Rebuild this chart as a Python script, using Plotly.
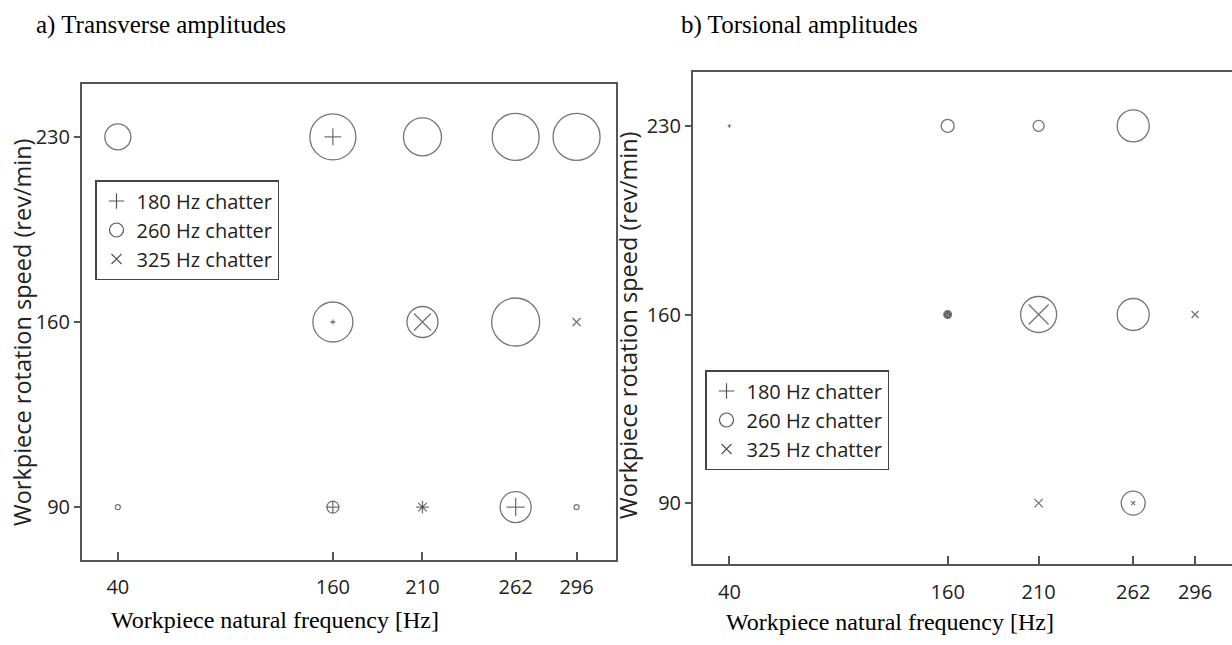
import plotly.graph_objects as go

# ---------------- data ----------------
speeds = [90, 160, 230]
freqs = [40, 160, 210, 262, 296]
freq_labels = ["40", "160", "210", "262", "296"]
series_names = ["180 Hz chatter", "260 Hz chatter", "325 Hz chatter"]

# a) Transverse amplitudes  (amp = marker diameter read off the picture)
a180_x = [160, 160, 160, 210, 262]
a180_y = [230, 160, 90, 90, 90]
a180_amp = [12, 3.5, 8.5, 9, 13]
a260_x = [40, 160, 210, 262, 296, 160, 210, 262, 40, 160, 262, 296]
a260_y = [230, 230, 230, 230, 230, 160, 160, 160, 90, 90, 90, 90]
a260_amp = [26, 46, 38, 47, 47, 40, 31, 48, 5, 12, 31, 5]
a325_x = [210, 296, 210]
a325_y = [160, 160, 90]
a325_amp = [17, 8, 8.5]

# b) Torsional amplitudes
b180_x = [40, 160]
b180_y = [230, 160]
b180_amp = [2.5, 4.5]
b260_x = [160, 210, 262, 160, 210, 262, 262]
b260_y = [230, 230, 230, 160, 160, 160, 90]
b260_amp = [13, 11, 32, 6, 36, 32, 24]
b325_x = [210, 296, 210, 262]
b325_y = [160, 160, 90, 90]
b325_amp = [20, 7, 8.5, 4]

# ---------------- style ----------------
MCOL = "#3a3a3a"
SANS = "Open Sans, Noto Sans, DejaVu Sans, sans-serif"
SERIF = "Liberation Serif, Times New Roman, serif"
symbols = ["cross-thin", "circle-open", "x-thin"]

fig = go.Figure()


def add_panel(xa, ya, data, legend_name):
    for (xs, ys, amp), sym in zip(data, symbols):
        # very small circles drawn with a thicker outline so they read as dots
        lw = [3 if (sym == "circle-open" and a <= 6 and xa == "x2") else 1.3
              for a in amp]
        fig.add_trace(go.Scatter(
            x=xs, y=ys, mode="markers", xaxis=xa, yaxis=ya,
            showlegend=False, hoverinfo="skip",
            marker=dict(symbol=sym, size=amp, color=MCOL,
                        line=dict(color=MCOL, width=lw)),
        ))
    legend_sizes = [11, 14, 10]
    for name, sym, s in zip(series_names, symbols, legend_sizes):
        fig.add_trace(go.Scatter(
            x=[None], y=[None], mode="markers", xaxis=xa, yaxis=ya,
            name=name, legend=legend_name, showlegend=True,
            marker=dict(symbol=sym, size=s, color="#555",
                        line=dict(color="#555", width=1.2)),
        ))


add_panel("x", "y", [(a180_x, a180_y, a180_amp), (a260_x, a260_y, a260_amp),
                     (a325_x, a325_y, a325_amp)], "legend")
add_panel("x2", "y2", [(b180_x, b180_y, b180_amp), (b260_x, b260_y, b260_amp),
                       (b325_x, b325_y, b325_amp)], "legend2")

tickfont = dict(family=SANS, size=20, color="#222")
axis_common = dict(showgrid=False, zeroline=False, showline=True,
                   linecolor="#555", linewidth=2, tickfont=tickfont,
                   tickcolor="#555", tickwidth=1.5)

legend_common = dict(bgcolor="white", bordercolor="#444", borderwidth=1.5,
                     font=dict(family=SANS, size=20, color="#222"),
                     xanchor="left", yanchor="top", tracegroupgap=0,
                     itemsizing="trace")

fig.update_layout(
    width=1232, height=645,
    margin=dict(l=0, r=0, t=0, b=0),
    paper_bgcolor="white", plot_bgcolor="white",
    xaxis=dict(domain=[82 / 1232, 616 / 1232], range=[20, 318], anchor="y",
               tickvals=freqs, ticktext=freq_labels, ticks="inside",
               ticklen=8, mirror=True, ticklabelstandoff=8, **axis_common),
    yaxis=dict(domain=[(645 - 560) / 645, (645 - 84) / 645], range=[70, 250],
               anchor="x", tickvals=speeds, ticks="outside", ticklen=6,
               mirror=True, **axis_common),
    xaxis2=dict(domain=[693 / 1232, 1.0], range=[20, 316.3], anchor="y2",
                tickvals=freqs, ticktext=freq_labels, ticks="inside",
                ticklen=8, mirror=True, ticklabelstandoff=9, **axis_common),
    yaxis2=dict(domain=[(645 - 564) / 645, (645 - 72) / 645], range=[67.4, 250],
                anchor="x2", tickvals=speeds, ticks="outside", ticklen=6,
                mirror=False, **axis_common),
    legend=dict(x=95 / 1232, y=1 - 180 / 645, **legend_common),
    legend2=dict(x=705 / 1232, y=1 - 370 / 645, **legend_common),
    showlegend=True,
)

titles = [
    dict(text="a) Transverse amplitudes", x=34 / 1232, y=1 - 25 / 645,
         xanchor="left", font=dict(family=SERIF, size=25, color="black")),
    dict(text="b) Torsional amplitudes", x=679 / 1232, y=1 - 25 / 645,
         xanchor="left", font=dict(family=SERIF, size=25, color="black")),
    dict(text="Workpiece natural frequency [Hz]", x=275 / 1232, y=1 - 620 / 645,
         xanchor="center", font=dict(family=SERIF, size=24, color="black")),
    dict(text="Workpiece natural frequency [Hz]", x=890 / 1232, y=1 - 622 / 645,
         xanchor="center", font=dict(family=SERIF, size=24, color="black")),
    dict(text="Workpiece rotation speed (rev/min)", x=22 / 1232, y=1 - 332 / 645,
         xanchor="center", textangle=-90,
         font=dict(family=SANS, size=23.5, color="#222")),
    dict(text="Workpiece rotation speed (rev/min)", x=628 / 1232, y=1 - 325 / 645,
         xanchor="center", textangle=-90,
         font=dict(family=SANS, size=23.5, color="#222")),
]
for t in titles:
    fig.add_annotation(xref="paper", yref="paper", showarrow=False,
                       yanchor="middle", **t)

fig.write_html(
    "out.html",
    config={"displayModeBar": False},
    post_script="document.body.style.margin='0px';"
                "document.body.style.overflow='hidden';",
)
